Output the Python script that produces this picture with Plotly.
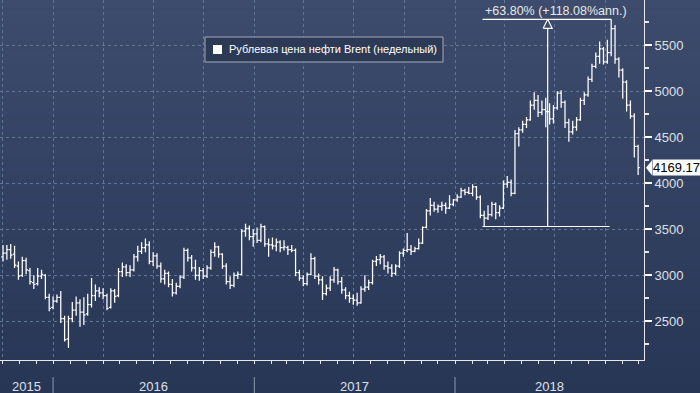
import plotly.graph_objects as go
import pandas as pd

# ---------------- data (weekly OHLC, RUB price of Brent) ----------------
start_date = "2015-10-02"
opens = [3200, 3240, 3280, 3230, 3100, 3000, 3160, 3050, 2920, 2910,
         2990, 3000, 2760, 2650, 2720, 2760, 2530, 2310, 2530, 2620,
         2700, 2600, 2580, 2680, 2780, 2830, 2810, 2780, 2650, 2830,
         2780, 3040, 3090, 3030, 3060, 3200, 3260, 3300, 3330, 3150,
         3210, 3100, 2960, 3020, 2900, 2810, 2880, 2980, 3270, 3190,
         3080, 3000, 3050, 2990, 3080, 3250, 3310, 3230, 3100, 2930,
         2890, 3000, 3010, 3480, 3510, 3420, 3450, 3380, 3530, 3340,
         3330, 3320, 3360, 3300, 3300, 3280, 3270, 3030, 2970, 2910,
         3010, 3180, 2990, 2950, 2800, 2860, 2950, 3060, 2930, 2840,
         2780, 2750, 2730, 2700, 2850, 2870, 2920, 3150, 3170, 3200,
         3100, 3080, 3020, 3100, 3240, 3270, 3280, 3260, 3290, 3350,
         3520, 3700, 3760, 3720, 3750, 3760, 3730, 3770, 3820, 3850,
         3920, 3900, 3890, 3960, 3850, 3650, 3620, 3660, 3770, 3680,
         3730, 3990, 4010, 3890, 4540, 4580, 4640, 4690, 4850, 4900,
         4770, 4800, 4780, 4700, 4820, 4980, 4880, 4660, 4560, 4610,
         4690, 4900, 4960, 5130, 5270, 5380, 5460, 5320, 5420, 5680,
         5350, 5230, 5100, 4850, 4730, 4400]
highs = [3330, 3330, 3340, 3320, 3150, 3200, 3190, 3080, 3000, 3080,
         3060, 3010, 2800, 2770, 2790, 2830, 2560, 2560, 2710, 2770,
         2740, 2760, 2800, 2970, 2900, 2870, 2860, 2800, 2860, 2850,
         3080, 3140, 3120, 3110, 3230, 3320, 3360, 3400, 3370, 3250,
         3240, 3140, 3060, 3040, 2960, 2920, 3000, 3300, 3290, 3220,
         3170, 3090, 3080, 3110, 3280, 3360, 3320, 3240, 3130, 2990,
         3030, 3040, 3500, 3560, 3540, 3500, 3520, 3560, 3540, 3400,
         3410, 3400, 3380, 3380, 3320, 3330, 3290, 3060, 3000, 3030,
         3240, 3200, 3020, 2990, 2900, 2990, 3090, 3070, 2980, 2870,
         2820, 2790, 2810, 2880, 3000, 2950, 3170, 3210, 3230, 3220,
         3150, 3120, 3120, 3260, 3290, 3460, 3330, 3310, 3400, 3530,
         3720, 3840, 3800, 3770, 3800, 3790, 3870, 3830, 3880, 3950,
         3940, 3960, 3990, 3970, 3870, 3700, 3760, 3800, 3790, 3760,
         4030, 4080, 4040, 4580, 4610, 4680, 4720, 4900, 4990, 4960,
         4900, 4930, 4870, 4850, 5000, 5010, 4900, 4700, 4680, 4720,
         4930, 4990, 5160, 5300, 5420, 5540, 5480, 5560, 5782, 5720,
         5370, 5250, 5120, 4900, 4760, 4420]
lows = [3150, 3170, 3180, 3080, 2950, 2980, 3010, 2900, 2850, 2890,
        2960, 2740, 2610, 2630, 2700, 2480, 2280, 2210, 2490, 2560,
        2440, 2460, 2560, 2650, 2720, 2760, 2740, 2620, 2640, 2700,
        2760, 2980, 2990, 2980, 3040, 3150, 3230, 3250, 3120, 3100,
        3070, 2920, 2900, 2870, 2770, 2790, 2860, 2960, 3150, 3040,
        2950, 2940, 2960, 2970, 3060, 3200, 3190, 3070, 2900, 2850,
        2870, 2960, 3000, 3420, 3380, 3310, 3350, 3360, 3310, 3200,
        3280, 3260, 3250, 3270, 3220, 3250, 2990, 2940, 2880, 2890,
        3000, 2960, 2900, 2730, 2780, 2830, 2920, 2900, 2800, 2740,
        2700, 2680, 2670, 2690, 2820, 2840, 2900, 3100, 3120, 3060,
        3020, 2980, 3000, 3080, 3200, 3250, 3220, 3250, 3280, 3340,
        3510, 3650, 3690, 3680, 3700, 3670, 3720, 3750, 3800, 3840,
        3870, 3880, 3860, 3820, 3620, 3530, 3600, 3640, 3610, 3640,
        3720, 3950, 3860, 3880, 4400, 4550, 4600, 4680, 4800, 4720,
        4740, 4610, 4640, 4650, 4800, 4820, 4600, 4450, 4530, 4570,
        4680, 4850, 4940, 5100, 5250, 5300, 5290, 5300, 5380, 5300,
        5150, 4920, 4780, 4700, 4280, 4090]
closes = [3240, 3280, 3220, 3110, 2990, 3160, 3060, 2930, 2900, 2990,
          3010, 2760, 2640, 2720, 2760, 2530, 2300, 2530, 2620, 2700,
          2600, 2570, 2680, 2780, 2830, 2810, 2780, 2640, 2830, 2770,
          3040, 3090, 3030, 3060, 3200, 3260, 3300, 3330, 3150, 3210,
          3100, 2960, 3020, 2900, 2810, 2880, 2980, 3270, 3190, 3080,
          3000, 3050, 2990, 3080, 3250, 3310, 3230, 3100, 2930, 2890,
          3000, 3010, 3480, 3510, 3420, 3450, 3380, 3530, 3340, 3330,
          3320, 3360, 3300, 3310, 3280, 3270, 3030, 2970, 2910, 3010,
          3180, 2990, 2950, 2800, 2860, 2950, 3060, 2930, 2840, 2780,
          2750, 2730, 2700, 2850, 2870, 2920, 3150, 3170, 3200, 3100,
          3080, 3020, 3100, 3240, 3270, 3280, 3260, 3290, 3350, 3520,
          3700, 3760, 3720, 3750, 3760, 3730, 3770, 3820, 3850, 3920,
          3900, 3890, 3960, 3850, 3650, 3620, 3660, 3770, 3680, 3730,
          3990, 4010, 3890, 4540, 4580, 4640, 4690, 4850, 4900, 4770,
          4800, 4780, 4700, 4820, 4980, 4880, 4660, 4560, 4610, 4690,
          4900, 4960, 5130, 5270, 5380, 5460, 5320, 5420, 5680, 5350,
          5230, 5100, 4850, 4730, 4400, 4169.17]

years = ["2015", "2016", "2017", "2018"]
y_ticks = [2500, 3000, 3500, 4000, 4500, 5000, 5500]
y_minor = [2250, 2750, 3250, 3750, 4250, 4750, 5250, 5750]
series_name = "Рублевая цена нефти Brent (недельный)"
gain_text = "+63.80% (+118.08%ann.)"
last_label = "4169.17"
low_idx, high_idx = 125, 158   # measured swing: low bar -> high bar

dates = pd.date_range(start_date, periods=len(closes), freq="7D")

# ---------------- layout geometry ----------------
W, H = 700, 393
ML, MR, MT, MB = 0, 56, 0, 33
PW, PH = W - ML - MR, H - MT - MB
x_range = [pd.Timestamp("2015-09-26 12:00"), pd.Timestamp("2018-12-10 16:00")]
y_range = [2079, 5992]

def pxp(xp):  # pixel x -> paper x
    return (xp - ML) / PW

def pyp(yp):  # pixel y -> paper y
    return (PH - (yp - MT)) / PH

top_rgb = (61, 76, 108)
bot_rgb = (40, 54, 86)
axis_col = "#e6e8ec"
grid_col = "#5f7696"
txt_col = "#dde1e8"
FONT = "Liberation Sans"

shapes = []
nb = 48
for k in range(nb):
    t = (k + 0.5) / nb
    c = tuple(int(round(top_rgb[j] + (bot_rgb[j] - top_rgb[j]) * t)) for j in range(3))
    y0p = H * k / nb
    y1p = H * (k + 1) / nb + 0.6
    shapes.append(dict(type="rect", xref="paper", yref="paper", layer="below",
                       x0=-0.02, x1=1.12, y0=pyp(y1p), y1=pyp(y0p),
                       fillcolor="rgb(%d,%d,%d)" % c, line=dict(width=0)))

# year separators in label band
for yr in years[1:]:
    shapes.append(dict(type="line", xref="x", yref="paper",
                       x0=pd.Timestamp(yr + "-01-01"), x1=pd.Timestamp(yr + "-01-01"),
                       y0=pyp(377), y1=pyp(393), line=dict(color="#8d98ab", width=1)))

# legend box
shapes.append(dict(type="rect", xref="paper", yref="paper", layer="above",
                   x0=pxp(205), x1=pxp(443), y0=pyp(62), y1=pyp(37),
                   fillcolor="#2d3a56", line=dict(color="#a3abbb", width=1)))
shapes.append(dict(type="rect", xref="paper", yref="paper", layer="above",
                   x0=pxp(213), x1=pxp(222), y0=pyp(54), y1=pyp(45),
                   fillcolor="white", line=dict(width=0)))

# last value pointer
lv = closes[-1]
shapes.append(dict(type="path", xref="paper", yref="y", layer="above",
                   path="M %f,%f L %f,%f L %f,%f Z" % (pxp(646), lv, pxp(652), lv + 7.5 / 0.092,
                                                      pxp(652), lv - 7.5 / 0.092),
                   fillcolor="white", line=dict(width=0)))

fig = go.Figure()
fig.add_trace(go.Ohlc(x=dates, open=opens, high=highs, low=lows, close=closes,
                      increasing=dict(line=dict(color="white", width=1.25)),
                      decreasing=dict(line=dict(color="white", width=1.25)),
                      tickwidth=0.45, showlegend=False, hoverinfo="skip"))

# swing measurement lines
d_lo, d_hi = dates[low_idx], dates[high_idx]
v_lo, v_hi = lows[low_idx], highs[high_idx]
off = pd.Timedelta(days=3)
d_mid = d_lo + (d_hi - d_lo) / 2
px_val = (y_range[1] - y_range[0]) / PH
px_day = (x_range[1] - x_range[0]) / PW
line_style = dict(color="white", width=1.2)
fig.add_trace(go.Scatter(x=[d_lo - off, d_hi - off], y=[v_lo, v_lo], mode="lines",
                         line=line_style, showlegend=False, hoverinfo="skip"))
fig.add_trace(go.Scatter(x=[d_lo - off, d_hi], y=[v_hi, v_hi], mode="lines",
                         line=line_style, showlegend=False, hoverinfo="skip"))
tri_h = 9 * px_val
tri_w = 4.5 * px_day
fig.add_trace(go.Scatter(x=[d_mid, d_mid], y=[v_lo, v_hi - tri_h], mode="lines",
                         line=line_style, showlegend=False, hoverinfo="skip"))
fig.add_trace(go.Scatter(x=[d_mid - tri_w, d_mid, d_mid + tri_w, d_mid - tri_w],
                         y=[v_hi - tri_h, v_hi, v_hi - tri_h, v_hi - tri_h],
                         mode="lines", fill="toself", fillcolor="rgb(%d,%d,%d)" % top_rgb,
                         line=line_style, showlegend=False, hoverinfo="skip"))

annotations = []
# year labels centred in visible part of each year
for yr in years:
    a = max(pd.Timestamp(yr + "-01-01"), x_range[0])
    b = min(pd.Timestamp(str(int(yr) + 1) + "-01-01"), x_range[1])
    annotations.append(dict(x=a + (b - a) / 2, xref="x", y=pyp(386), yref="paper",
                            text=yr, showarrow=False, xanchor="center", yanchor="middle",
                            font=dict(family=FONT, size=13, color=txt_col)))
annotations.append(dict(x=pxp(227), xref="paper", y=pyp(49.5), yref="paper",
                        text=series_name, showarrow=False, xanchor="left", yanchor="middle",
                        font=dict(family=FONT, size=11, color="white")))
annotations.append(dict(x=d_lo - off, xref="x", y=v_hi + 8 * px_val, yref="y",
                        text=gain_text, showarrow=False, xanchor="left", yanchor="middle",
                        font=dict(family=FONT, size=12.5, color="#e8e8e8")))
annotations.append(dict(x=pxp(652), xref="paper", y=lv, yref="y", text=last_label,
                        showarrow=False, xanchor="left", yanchor="middle",
                        bgcolor="white", borderpad=0,
                        font=dict(family=FONT, size=13, color="black")))

fig.update_layout(
    width=W, height=H,
    margin=dict(l=ML, r=MR, t=MT, b=MB),
    paper_bgcolor="rgb(%d,%d,%d)" % bot_rgb,
    plot_bgcolor="rgba(0,0,0,0)",
    showlegend=False,
    hovermode=False,
    shapes=shapes,
    annotations=annotations,
    xaxis=dict(type="date", range=x_range, rangeslider=dict(visible=False),
               showgrid=True, gridcolor=grid_col, griddash="dot", gridwidth=1,
               tick0="2016-01-01", dtick="M3", ticks="outside", ticklen=3,
               tickcolor=axis_col, showticklabels=False, showline=True,
               linecolor=axis_col, linewidth=1, zeroline=False,
               minor=dict(dtick="M1", tick0="2016-01-01", ticks="outside",
                          ticklen=3, tickcolor=axis_col, showgrid=False)),
    yaxis=dict(side="right", range=y_range, tickvals=y_ticks, ticks="outside",
               ticklen=7, tickwidth=2, tickcolor="white", showline=True,
               linecolor=axis_col, linewidth=1, showgrid=True, gridcolor=grid_col,
               griddash="dot", zeroline=False,
               tickfont=dict(family=FONT, size=13, color=txt_col),
               minor=dict(tickvals=y_minor, ticks="outside", ticklen=4,
                          tickcolor=axis_col, showgrid=False)),
)

fig.write_html("out.html", config={"displayModeBar": False, "staticPlot": True},
               post_script="document.body.style.margin='0';document.body.style.padding='0';"
                           "document.body.style.overflow='hidden';"
                           "document.body.style.background='rgb(40,54,86)';")
